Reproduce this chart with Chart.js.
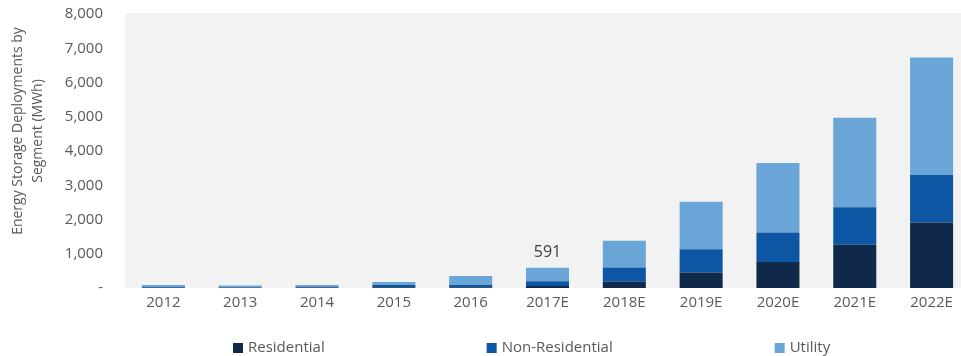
<!DOCTYPE html>
<html lang="en">
<head>
    <meta charset="UTF-8">
    <title>Energy Storage Deployments by Segment</title>
    <script src="https://cdn.jsdelivr.net/npm/chart.js"></script>
    <style>
        body {
            margin: 0;
            overflow: hidden;
            background-color: #ffffff;
            font-family: "Open Sans", sans-serif;
        }
        #wrap {
            width: 970px; /* chart runs slightly past the right edge, like the original */
            height: 356px;
        }
    </style>
</head>
<body>
    <div id="wrap"><canvas id="storageChart"></canvas></div>
    <script>
        // data (MWh)
        const years = ['2012', '2013', '2014', '2015', '2016', '2017E', '2018E', '2019E', '2020E', '2021E', '2022E'];
        const residential    = [5, 5, 10, 20, 25, 60, 180, 450, 760, 1265, 1910];
        const nonResidential = [25, 20, 25, 70, 60, 140, 420, 680, 860, 1090, 1390];
        const utility        = [60, 45, 55, 85, 265, 391, 780, 1390, 2030, 2615, 3430];
        const seriesNames = ['Residential', 'Non-Residential', 'Utility'];
        const yMax = 8000;
        const yStep = 1000;
        const calloutYear = '2017E'; // only this bar has its total printed
        const yTitle = ['Energy Storage Deployments by', 'Segment (MWh)'];

        const colors = ['#10294a', '#0c56a3', '#6aa5d8'];
        const textColor = '#595959';

        // grey plot background
        const plotBg = {
            id: 'plotBg',
            beforeDraw(chart) {
                const {ctx, chartArea: a} = chart;
                ctx.save();
                ctx.fillStyle = '#f2f2f2';
                ctx.fillRect(a.left, a.top - 1, a.right - a.left, a.bottom - a.top + 1);
                ctx.restore();
            }
        };

        // rotated axis title, two lines
        const axisTitle = {
            id: 'axisTitle',
            afterDraw(chart) {
                const ctx = chart.ctx;
                ctx.save();
                ctx.translate(18, 131);
                ctx.rotate(-Math.PI / 2);
                ctx.font = '14px "Open Sans"';
                ctx.fillStyle = textColor;
                ctx.textAlign = 'center';
                ctx.textBaseline = 'middle';
                yTitle.forEach((line, i) => ctx.fillText(line, 0, i * 20));
                ctx.restore();
            }
        };

        // total above the highlighted bar
        const totalLabel = {
            id: 'totalLabel',
            afterDatasetsDraw(chart) {
                const i = years.indexOf(calloutYear);
                const last = chart.getDatasetMeta(chart.data.datasets.length - 1).data[i];
                const total = chart.data.datasets.reduce((s, d) => s + d.data[i], 0);
                const ctx = chart.ctx;
                ctx.save();
                ctx.font = '16px "Open Sans"';
                ctx.fillStyle = '#404040';
                ctx.textAlign = 'center';
                ctx.textBaseline = 'bottom';
                ctx.fillText(total.toLocaleString('en-US'), last.x, last.y - 7);
                ctx.restore();
            }
        };

        // wide-spaced legend along the bottom
        const spreadLegend = {
            id: 'spreadLegend',
            afterDraw(chart, args, opts) {
                const ctx = chart.ctx;
                ctx.save();
                ctx.font = '15px "Open Sans"';
                ctx.textBaseline = 'middle';
                let x = opts.startX;
                chart.data.datasets.forEach(ds => {
                    ctx.fillStyle = ds.backgroundColor;
                    ctx.fillRect(x, opts.y - 5, 10, 10);
                    ctx.fillStyle = textColor;
                    ctx.fillText(ds.label, x + 15, opts.y);
                    x += 15 + ctx.measureText(ds.label).width + opts.gap;
                });
                ctx.restore();
            }
        };

        const ctx = document.getElementById('storageChart').getContext('2d');
        new Chart(ctx, {
            type: 'bar',
            data: {
                labels: years,
                datasets: [residential, nonResidential, utility].map((vals, k) => ({
                    label: seriesNames[k],
                    data: vals,
                    backgroundColor: colors[k],
                    borderWidth: 0,
                    categoryPercentage: 1,
                    barPercentage: 0.56
                }))
            },
            options: {
                responsive: true,
                maintainAspectRatio: false,
                animation: false,
                layout: {
                    padding: {top: 14, right: 0, bottom: 38, left: 0}
                },
                scales: {
                    x: {
                        stacked: true,
                        grid: {display: false, drawTicks: false},
                        border: {display: false},
                        ticks: {
                            color: textColor,
                            padding: 6,
                            font: {family: 'Open Sans', size: 15}
                        }
                    },
                    y: {
                        stacked: true,
                        min: 0,
                        max: yMax,
                        afterFit: s => {
                            s.width = 125;
                            s.paddingTop = 0;
                            s.paddingBottom = 0;
                        },
                        grid: {display: false, drawTicks: false},
                        border: {display: false},
                        ticks: {
                            stepSize: yStep,
                            color: textColor,
                            padding: 22,
                            font: {family: 'Open Sans', size: 15},
                            callback: v => v === 0 ? '-' : v.toLocaleString('en-US')
                        }
                    }
                },
                plugins: {
                    legend: {display: false},
                    tooltip: {enabled: false},
                    spreadLegend: {startX: 233, y: 348, gap: 162}
                }
            },
            plugins: [plotBg, axisTitle, totalLabel, spreadLegend]
        });
    </script>
</body>
</html>
